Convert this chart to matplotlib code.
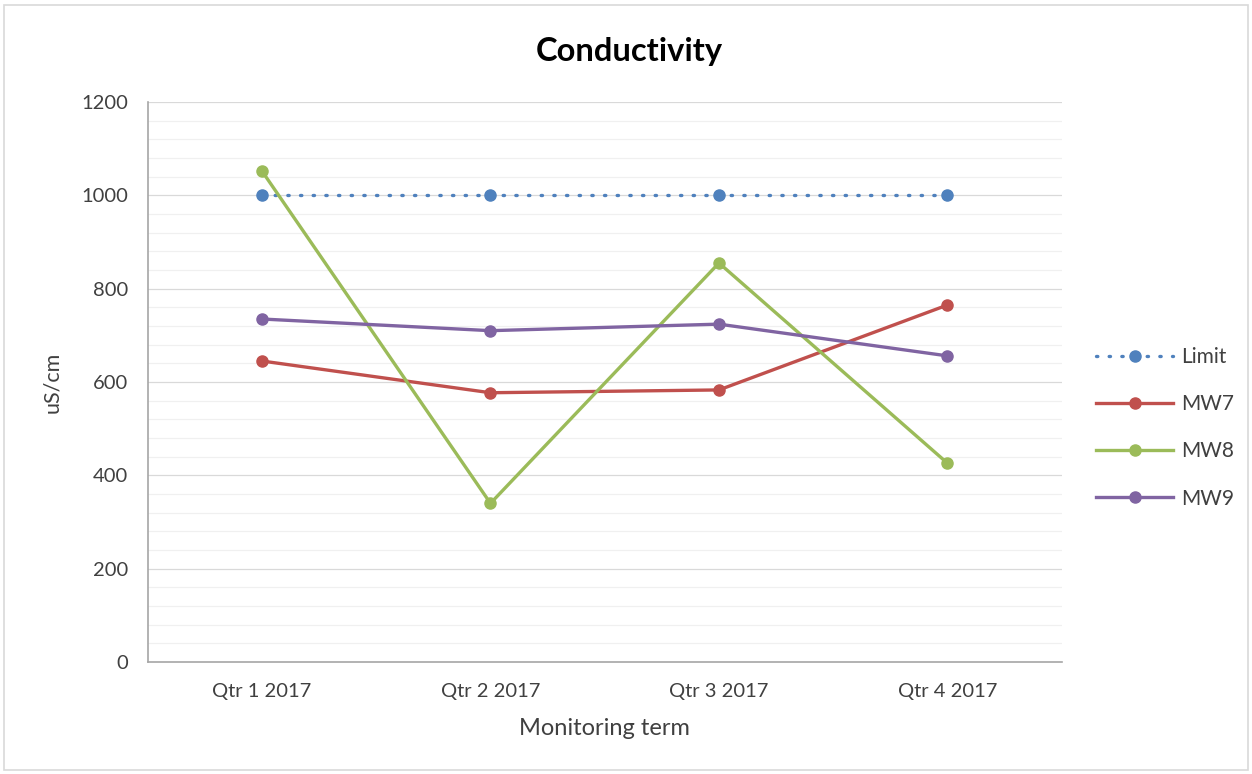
import matplotlib
matplotlib.use("Agg")
import matplotlib.pyplot as plt
from matplotlib.patches import Rectangle

plt.rcParams['font.family'] = ['Lato', 'DejaVu Sans']

categories = ["Qtr 1 2017", "Qtr 2 2017", "Qtr 3 2017", "Qtr 4 2017"]
limit = [1000, 1000, 1000, 1000]
mw7 = [645, 577, 583, 765]
mw8 = [1052, 340, 855, 426]
mw9 = [735, 710, 724, 656]
y_ticks = [0, 200, 400, 600, 800, 1000, 1200]

C_LIMIT = "#4F81BD"
C_MW7 = "#C0504D"
C_MW8 = "#9BBB59"
C_MW9 = "#8064A2"
TXT = "#404040"

fig = plt.figure(figsize=(12.52, 7.74), dpi=100)
fig.patches.append(Rectangle((0.003, 0.005), 0.994, 0.988, transform=fig.transFigure,
                             fill=False, edgecolor="#D9D9D9", linewidth=1.2))
ax = fig.add_axes([0.118, 0.1447, 0.730, 0.7235])

x = list(range(len(categories)))

# minor and major horizontal gridlines
for v in range(40, 1200, 40):
    if v % 200:
        ax.axhline(v, color="#F0F0F0", linewidth=0.9, zorder=0)
for v in y_ticks[1:]:
    ax.axhline(v, color="#D9D9D9", linewidth=0.9, zorder=0)

lw = 2.4
ms = 8
ax.plot(x, limit, color=C_LIMIT, linewidth=lw, linestyle=(0, (0.4, 3.4)),
        dash_capstyle="round", marker="o", markersize=ms, zorder=3, label="Limit")
ax.plot(x, mw7, color=C_MW7, linewidth=lw, marker="o", markersize=ms, zorder=3, label="MW7")
ax.plot(x, mw8, color=C_MW8, linewidth=lw, marker="o", markersize=ms, zorder=3, label="MW8")
ax.plot(x, mw9, color=C_MW9, linewidth=lw, marker="o", markersize=ms, zorder=3, label="MW9")

ax.set_xlim(-0.5, len(categories) - 0.5)
ax.set_ylim(0, 1200)
ax.set_xticks(x)
ax.set_xticklabels(categories)
ax.set_yticks(y_ticks)
ax.tick_params(axis="both", length=0, labelsize=14.5, colors=TXT)
ax.tick_params(axis="x", pad=15)
ax.tick_params(axis="y", pad=14)

for s in ("top", "right"):
    ax.spines[s].set_visible(False)
for s in ("left", "bottom"):
    ax.spines[s].set_color("#A6A6A6")
    ax.spines[s].set_linewidth(1.2)

ax.set_xlabel("Monitoring term", fontsize=17, color=TXT, labelpad=13)
ax.set_ylabel("uS/cm", fontsize=15.5, color=TXT, labelpad=14)
fig.text(0.503, 0.934, "Conductivity", ha="center", va="center",
         fontsize=23.5, fontweight="bold", color="#000000")

leg = ax.legend(loc="center left", bbox_to_anchor=(1.017, 0.418), frameon=False,
                fontsize=15, labelspacing=1.3, handlelength=3.7, handletextpad=0.38,
                borderpad=0.4)
for t in leg.get_texts():
    t.set_color(TXT)

fig.savefig("out.png", dpi=100)
